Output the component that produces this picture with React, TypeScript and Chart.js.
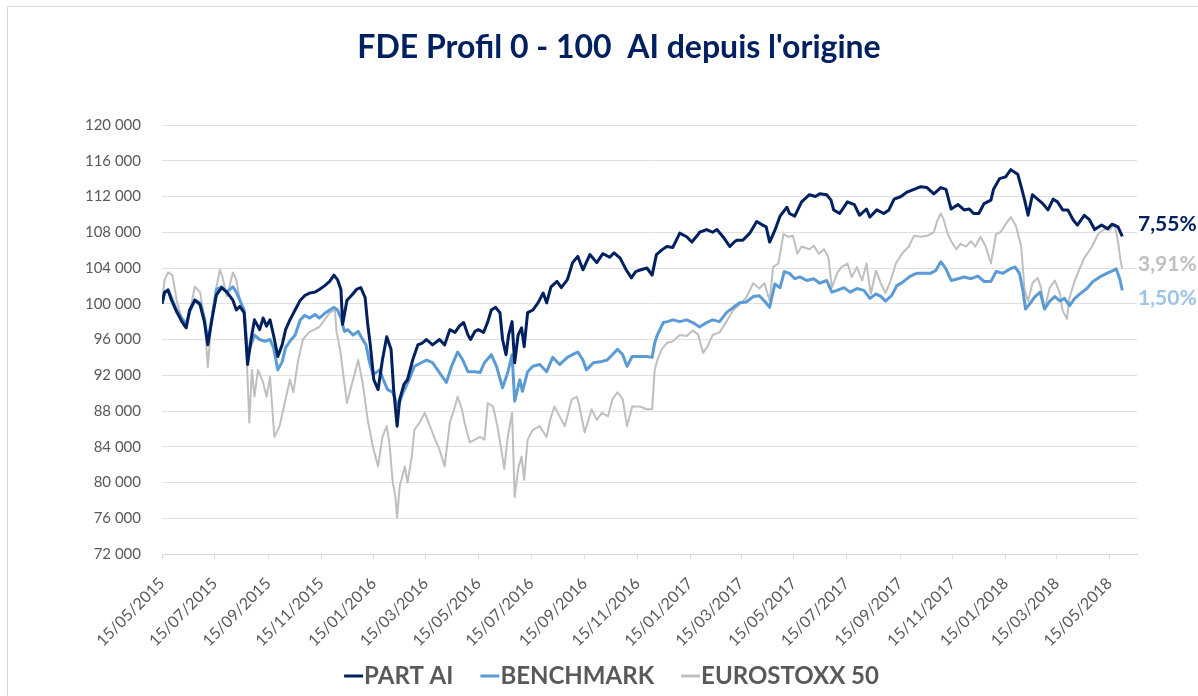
import React, { useEffect, useRef } from "react";
import { Chart, registerables } from "chart.js";

Chart.register(...registerables);

const TITLE = "FDE Profil 0 - 100  AI depuis l'origine";
const SERIES_NAMES = ["PART AI", "BENCHMARK", "EUROSTOXX 50"];
const END_LABELS = ["7,55%", "1,50%", "3,91%"];

const X_TICK_LABELS = [
  "15/05/2015", "15/07/2015", "15/09/2015", "15/11/2015", "15/01/2016", "15/03/2016",
  "15/05/2016", "15/07/2016", "15/09/2016", "15/11/2016", "15/01/2017", "15/03/2017",
  "15/05/2017", "15/07/2017", "15/09/2017", "15/11/2017", "15/01/2018", "15/03/2018",
  "15/05/2018",
];
const X_MAX_DAY = 1128; // axis end (days since 15/05/2015)

// [days since 15/05/2015, value]
const partAi: [number, number][] = [
  [0,100000],[3,101300],[7,101500],[11,100400],[17,99100],[23,98000],[28,97300],[32,99300],[38,100400],[44,99900],[49,98000],[53,95400],[58,98400],[63,101000],[69,101800],[75,101300],[82,100400],[86,99300],[90,99700],[95,99000],[99,93200],[103,96000],[107,98200],[113,97100],[117,98400],[121,97500],[125,98200],[129,96500],[134,94100],[139,95400],[143,97100],[148,98200],[154,99300],[160,100400],[165,100900],[171,101200],[177,101300],[182,101600],[188,102000],[194,102500],[199,103200],[203,102700],[207,101600],[209,97700],[214,100400],[220,101000],[225,101600],[230,101800],[235,100700],[238,97700],[241,95400],[245,91500],[250,90400],[255,93700],[260,96300],[265,94900],[268,90400],[272,86300],[275,89300],[280,91000],[284,91500],[290,93700],[296,95400],[301,95600],[306,96000],[313,95400],[321,96000],[327,95400],[333,97100],[339,96800],[344,97500],[349,97900],[354,96500],[357,96000],[362,96900],[366,97100],[372,96800],[377,98000],[381,99300],[386,99600],[391,99000],[394,96000],[398,94300],[401,96500],[405,98000],[408,93400],[412,96500],[416,97300],[419,95200],[423,99000],[429,99300],[435,100100],[441,101200],[445,100100],[450,101900],[457,102500],[462,101800],[469,102700],[475,104600],[481,105300],[487,103800],[495,105500],[503,104600],[510,105600],[518,105200],[523,105700],[530,105100],[537,103800],[543,102900],[548,103600],[554,103800],[561,104000],[567,103200],[572,105500],[578,106000],[584,106400],[591,106300],[599,107900],[607,107500],[613,106900],[619,107600],[622,108000],[630,108300],[637,108000],[642,108300],[649,107500],[657,106400],[662,106900],[665,107100],[672,107100],[680,107900],[688,109200],[695,108800],[699,108600],[703,106900],[709,108200],[715,109800],[723,110800],[726,110100],[732,109800],[740,111400],[749,112200],[756,112000],[761,112300],[769,112200],[774,111600],[777,110500],[784,110100],[793,111400],[801,111100],[807,109900],[815,110600],[819,109700],[827,110500],[835,110100],[841,110500],[847,111700],[855,112000],[862,112500],[870,112800],[878,113100],[885,113000],[893,112300],[901,113000],[907,112800],[913,110600],[921,111100],[928,110500],[934,110600],[939,110100],[945,110100],[951,111200],[959,111600],[962,112800],[969,114000],[976,114200],[982,115000],[990,114500],[994,113100],[998,111600],[1002,109900],[1007,112200],[1013,111700],[1019,111200],[1025,110500],[1031,111700],[1036,111400],[1042,110500],[1048,110500],[1054,109400],[1059,108800],[1067,109900],[1073,109400],[1079,108300],[1087,108800],[1094,108400],[1099,108900],[1106,108600],[1111,107550],
];

const benchmark: [number, number][] = [
  [0,100000],[3,101200],[7,101600],[11,100700],[17,99300],[23,98400],[28,97700],[32,99100],[38,100400],[44,100100],[49,98400],[53,95800],[58,98400],[63,101600],[69,101900],[75,101300],[82,101900],[86,101300],[90,100400],[95,99300],[99,94300],[103,95400],[107,96500],[113,96000],[119,95800],[125,96000],[129,95100],[134,92600],[139,93500],[143,95100],[148,95800],[154,96500],[160,98200],[165,98700],[171,98400],[177,98800],[182,98400],[188,98900],[194,99300],[199,99600],[203,99300],[207,98400],[211,96900],[215,97100],[221,96500],[227,96900],[231,96200],[236,95400],[240,93500],[244,92100],[249,92400],[252,92600],[256,91500],[261,90400],[267,90100],[273,88500],[279,90100],[286,91500],[292,93000],[300,93400],[306,93700],[313,93400],[321,92300],[329,91200],[335,93000],[342,94600],[348,93700],[354,92400],[362,92400],[368,92300],[373,93400],[381,94300],[387,93000],[394,90600],[400,92300],[405,94300],[408,89100],[414,91500],[417,90200],[423,92400],[429,93000],[437,93200],[445,92400],[452,94000],[460,93200],[469,94000],[475,94300],[481,94600],[487,93700],[491,92600],[499,93400],[507,93500],[515,93700],[521,94300],[527,94900],[533,94300],[538,93000],[544,94100],[553,94100],[561,94100],[567,94000],[570,95600],[573,96500],[580,97900],[585,98000],[591,98200],[599,98000],[607,98200],[614,97900],[622,97400],[630,97900],[637,98200],[645,98000],[653,99000],[661,99600],[668,100100],[676,100200],[684,100800],[691,100900],[697,100300],[703,99600],[709,102200],[715,101800],[720,103600],[726,103400],[732,102800],[738,103000],[746,102600],[754,102800],[761,102300],[769,102600],[775,101300],[781,101500],[789,101800],[796,101300],[804,101700],[812,101500],[819,100600],[826,101100],[832,100800],[837,100300],[844,100900],[850,102000],[858,102500],[866,103100],[873,103400],[881,103400],[889,103400],[895,103700],[901,104700],[907,103900],[913,102600],[921,102800],[928,103000],[936,102800],[944,103100],[951,102500],[959,102500],[965,103600],[973,103400],[981,103900],[987,104100],[992,103400],[996,101500],[999,99400],[1004,100000],[1010,100800],[1016,101300],[1021,99400],[1027,100300],[1033,100800],[1039,100300],[1044,100600],[1050,99800],[1056,100600],[1062,101100],[1070,101700],[1077,102500],[1085,103000],[1093,103400],[1100,103700],[1104,103900],[1108,102800],[1111,101500],
];

const eurostoxx: [number, number][] = [
  [0,100000],[3,102700],[7,103500],[12,103200],[17,100400],[23,98200],[26,97400],[32,99000],[38,101900],[44,101300],[49,98500],[53,92900],[58,99000],[63,101900],[67,103800],[70,103000],[75,100800],[78,101900],[82,103500],[86,102700],[90,100400],[96,99000],[101,86700],[104,92600],[107,89600],[111,92600],[117,91200],[121,89600],[125,91800],[130,85100],[136,86300],[142,88900],[148,91500],[152,90100],[157,93400],[163,96000],[170,96800],[182,97400],[194,99000],[200,99300],[202,96800],[206,94900],[214,88900],[221,91500],[227,93700],[232,91200],[238,87000],[244,84000],[250,81800],[255,85100],[260,86300],[263,84500],[267,80000],[270,78400],[272,76100],[275,79600],[281,81800],[284,80000],[289,82900],[292,85900],[298,86700],[304,87800],[310,86300],[316,84800],[321,83700],[327,81800],[333,86700],[339,88500],[342,89600],[347,88200],[350,86700],[356,84500],[362,84800],[368,85100],[373,84800],[377,88900],[383,88500],[388,86300],[393,83400],[396,81500],[400,85100],[405,87800],[408,78400],[412,81500],[416,82900],[419,80300],[423,84800],[429,85900],[437,86300],[445,85100],[449,87000],[454,88500],[460,87400],[466,86300],[474,89300],[480,89600],[483,88500],[489,85600],[497,88200],[503,87000],[509,87800],[516,87400],[521,89300],[527,90100],[533,89300],[538,86300],[544,88500],[553,88500],[561,88200],[567,88200],[570,92600],[573,93700],[578,94900],[584,95600],[591,95800],[599,96500],[607,96400],[614,97000],[620,96600],[626,94500],[631,95200],[637,96500],[645,96800],[653,98000],[661,99300],[668,99900],[676,100700],[684,102300],[691,101700],[697,102300],[703,100300],[707,104100],[713,104500],[719,107800],[724,107500],[730,107600],[735,105600],[740,106400],[749,106100],[754,106500],[760,105600],[766,106100],[771,105200],[775,101800],[781,103400],[786,104100],[793,104500],[798,103000],[804,104100],[810,102600],[815,104500],[820,101100],[826,103700],[832,102200],[837,101200],[843,102600],[849,104500],[856,105600],[864,106400],[870,107600],[878,107500],[885,107600],[893,108000],[897,109300],[901,110100],[904,109500],[909,107800],[913,107000],[919,106100],[924,106700],[930,106400],[936,107000],[941,106400],[947,107500],[953,106400],[959,104500],[965,107800],[970,108000],[976,108900],[982,109700],[988,108700],[994,106400],[998,101500],[1002,100300],[1007,102300],[1013,102900],[1017,101800],[1021,99400],[1027,101800],[1033,102600],[1039,101100],[1042,99200],[1047,98300],[1050,100700],[1056,102600],[1062,104000],[1067,105100],[1076,106400],[1083,107800],[1091,108400],[1096,108200],[1102,108900],[1106,107000],[1109,104800],[1111,103910],
];

const START = Date.UTC(2015, 4, 15);
function dayOf(label: string): number {
  const [d, m, y] = label.split("/").map(Number);
  return Math.round((Date.UTC(y, m - 1, d) - START) / 86400000);
}
const tickDayToLabel = new Map<number, string>(X_TICK_LABELS.map((l) => [dayOf(l), l]));

const fmtThousands = (v: number) =>
  String(Math.round(v)).replace(/\B(?=(\d{3})+(?!\d))/g, " ");

const FONT = "Lato, 'Open Sans', sans-serif";
const LINE_COLORS = ["#002060", "#5B9BD5", "#BFBFBF"];
const END_COLORS = ["#002060", "#9DC3E6", "#BFBFBF"];
const END_OFFSETS = [-12, 8, -5];

const decorPlugin = {
  id: "decor",
  afterDraw(chart: any) {
    const ctx: CanvasRenderingContext2D = chart.ctx;
    const area = chart.chartArea;
    ctx.save();
    // outer frame
    ctx.strokeStyle = "#d9d9d9";
    ctx.lineWidth = 1;
    ctx.beginPath();
    ctx.moveTo(7.5, chart.height);
    ctx.lineTo(7.5, 6.5);
    ctx.lineTo(chart.width, 6.5);
    ctx.stroke();

    // title
    ctx.font = `bold 32px ${FONT}`;
    ctx.fillStyle = "#002060";
    ctx.textAlign = "center";
    ctx.textBaseline = "middle";
    ctx.fillText(TITLE, 619, 48);

    // end labels
    ctx.font = `bold 21px ${FONT}`;
    ctx.textAlign = "left";
    chart.data.datasets.forEach((_: any, i: number) => {
      const meta = chart.getDatasetMeta(i);
      const last = meta.data[meta.data.length - 1];
      if (!last) return;
      ctx.fillStyle = END_COLORS[i];
      ctx.fillText(END_LABELS[i], area.right + 1, last.y + END_OFFSETS[i]);
    });

    // legend
    ctx.font = `bold 24px ${FONT}`;
    const markerW = 19;
    const gap = 1;
    const itemGap = 27;
    const widths = SERIES_NAMES.map((n) => ctx.measureText(n).width);
    const total =
      widths.reduce((a, w) => a + markerW + gap + w, 0) + itemGap * (SERIES_NAMES.length - 1);
    let x = 611.5 - total / 2;
    const y = 676;
    SERIES_NAMES.forEach((n, i) => {
      ctx.fillStyle = LINE_COLORS[i];
      ctx.fillRect(x, y - 1.5, markerW, 3);
      x += markerW + gap;
      ctx.fillStyle = "#595959";
      ctx.fillText(n, x, y);
      x += widths[i] + itemGap;
    });
    ctx.restore();
  },
};

export default function App() {
  const ref = useRef<HTMLCanvasElement | null>(null);
  useEffect(() => {
    document.body.style.margin = "0";
    if (!ref.current) return;
    const toPts = (arr: [number, number][]) => arr.map(([x, y]) => ({ x, y }));
    const chart = new Chart(ref.current, {
      type: "line",
      data: {
        datasets: [
          { label: SERIES_NAMES[0], data: toPts(partAi), borderColor: LINE_COLORS[0], borderWidth: 3 },
          { label: SERIES_NAMES[1], data: toPts(benchmark), borderColor: LINE_COLORS[1], borderWidth: 3 },
          { label: SERIES_NAMES[2], data: toPts(eurostoxx), borderColor: LINE_COLORS[2], borderWidth: 2 },
        ].map((d) => ({ ...d, pointRadius: 0, tension: 0, fill: false, borderJoinStyle: "round" as const })),
      },
      options: {
        responsive: false,
        animation: false,
        devicePixelRatio: 1,
        layout: { padding: { left: 0, right: 61, top: 125, bottom: 0 } },
        plugins: { legend: { display: false }, title: { display: false }, tooltip: { enabled: false } },
        scales: {
          x: {
            type: "linear",
            min: 0,
            max: X_MAX_DAY,
            afterBuildTicks: (scale: any) => {
              scale.ticks = X_TICK_LABELS.map((l) => ({ value: dayOf(l) }));
            },
            afterFit: (scale: any) => {
              scale.height = 142;
            },
            ticks: {
              autoSkip: false,
              minRotation: 45,
              maxRotation: 45,
              color: "#595959",
              font: { family: FONT, size: 16 },
              padding: 15,
              callback: (v: any) => tickDayToLabel.get(Number(v)) ?? "",
            },
            grid: { display: true, drawOnChartArea: false, drawTicks: true, tickLength: 5, color: "#d9d9d9" },
            border: { display: true, color: "#d9d9d9" },
          },
          y: {
            type: "linear",
            min: 72000,
            max: 120000,
            afterFit: (scale: any) => {
              scale.width = 162;
            },
            ticks: {
              stepSize: 4000,
              color: "#595959",
              font: { family: FONT, size: 15 },
              padding: 21,
              callback: (v: any) => fmtThousands(Number(v)),
            },
            grid: { color: "#e0e0e0", drawTicks: false },
            border: { display: false },
          },
        },
      },
      plugins: [decorPlugin],
    });
    return () => chart.destroy();
  }, []);
  return (
    <div style={{ position: "absolute", left: 0, top: 0, width: 1198, height: 696, background: "#fff" }}>
      <canvas ref={ref} width={1198} height={696} style={{ display: "block" }} />
    </div>
  );
}
